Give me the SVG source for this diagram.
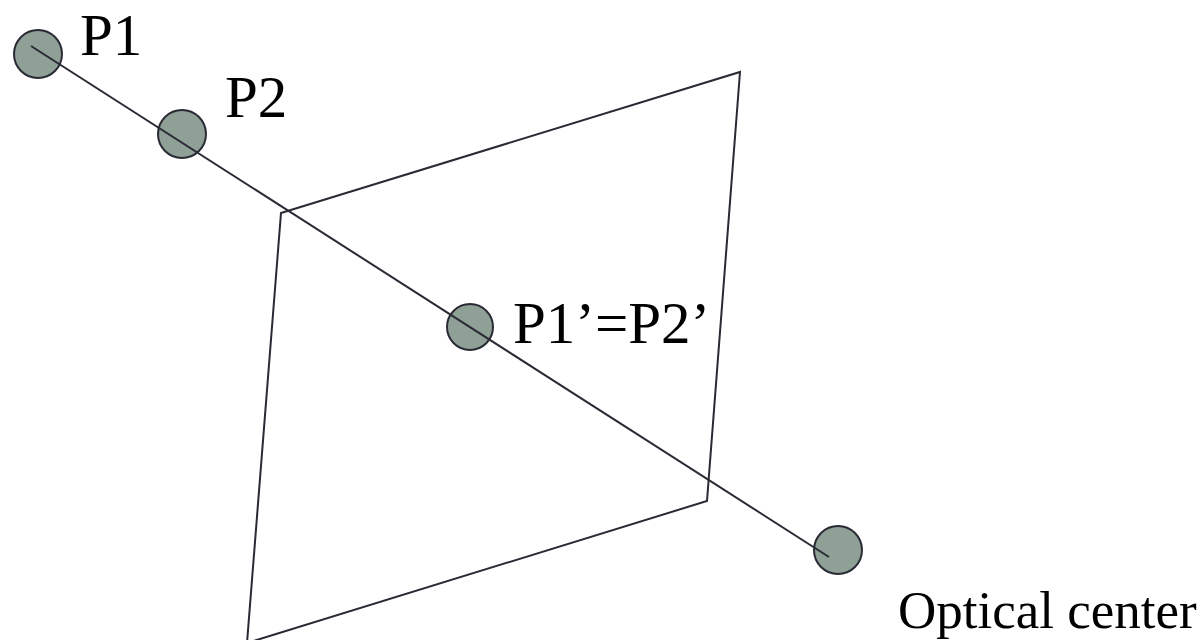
<svg xmlns="http://www.w3.org/2000/svg" width="1202" height="640" viewBox="0 0 1202 640">
<style>
.pt{fill:#8fa096;stroke:#2a2a35;stroke-width:2}
.ln{fill:none;stroke:#2a2a35;stroke-width:2}
.lb{fill:#000;font-family:"Liberation Serif","Times New Roman",Times,serif}
</style>
<rect width="1202" height="640" fill="#fff"/>
<g id="plane"><polygon class="ln" points="281,213 740,72 707,501 247,643"/></g>
<g id="p1"><circle class="pt" cx="38" cy="54" r="24"/><text class="lb" x="80" y="55" font-size="59">P1</text></g>
<g id="p2"><circle class="pt" cx="182" cy="134" r="24"/><text class="lb" x="225" y="117" font-size="59">P2</text></g>
<g id="p12"><circle class="pt" cx="470" cy="327" r="23"/><text class="lb" x="513" y="343" font-size="59">P1’=P2’</text></g>
<g id="oc"><circle class="pt" cx="838" cy="550" r="24"/><text class="lb" x="898" y="628" font-size="53">Optical center</text></g>
<g id="connectors"><line class="ln" x1="31" y1="46" x2="829" y2="557"/></g>
</svg>
